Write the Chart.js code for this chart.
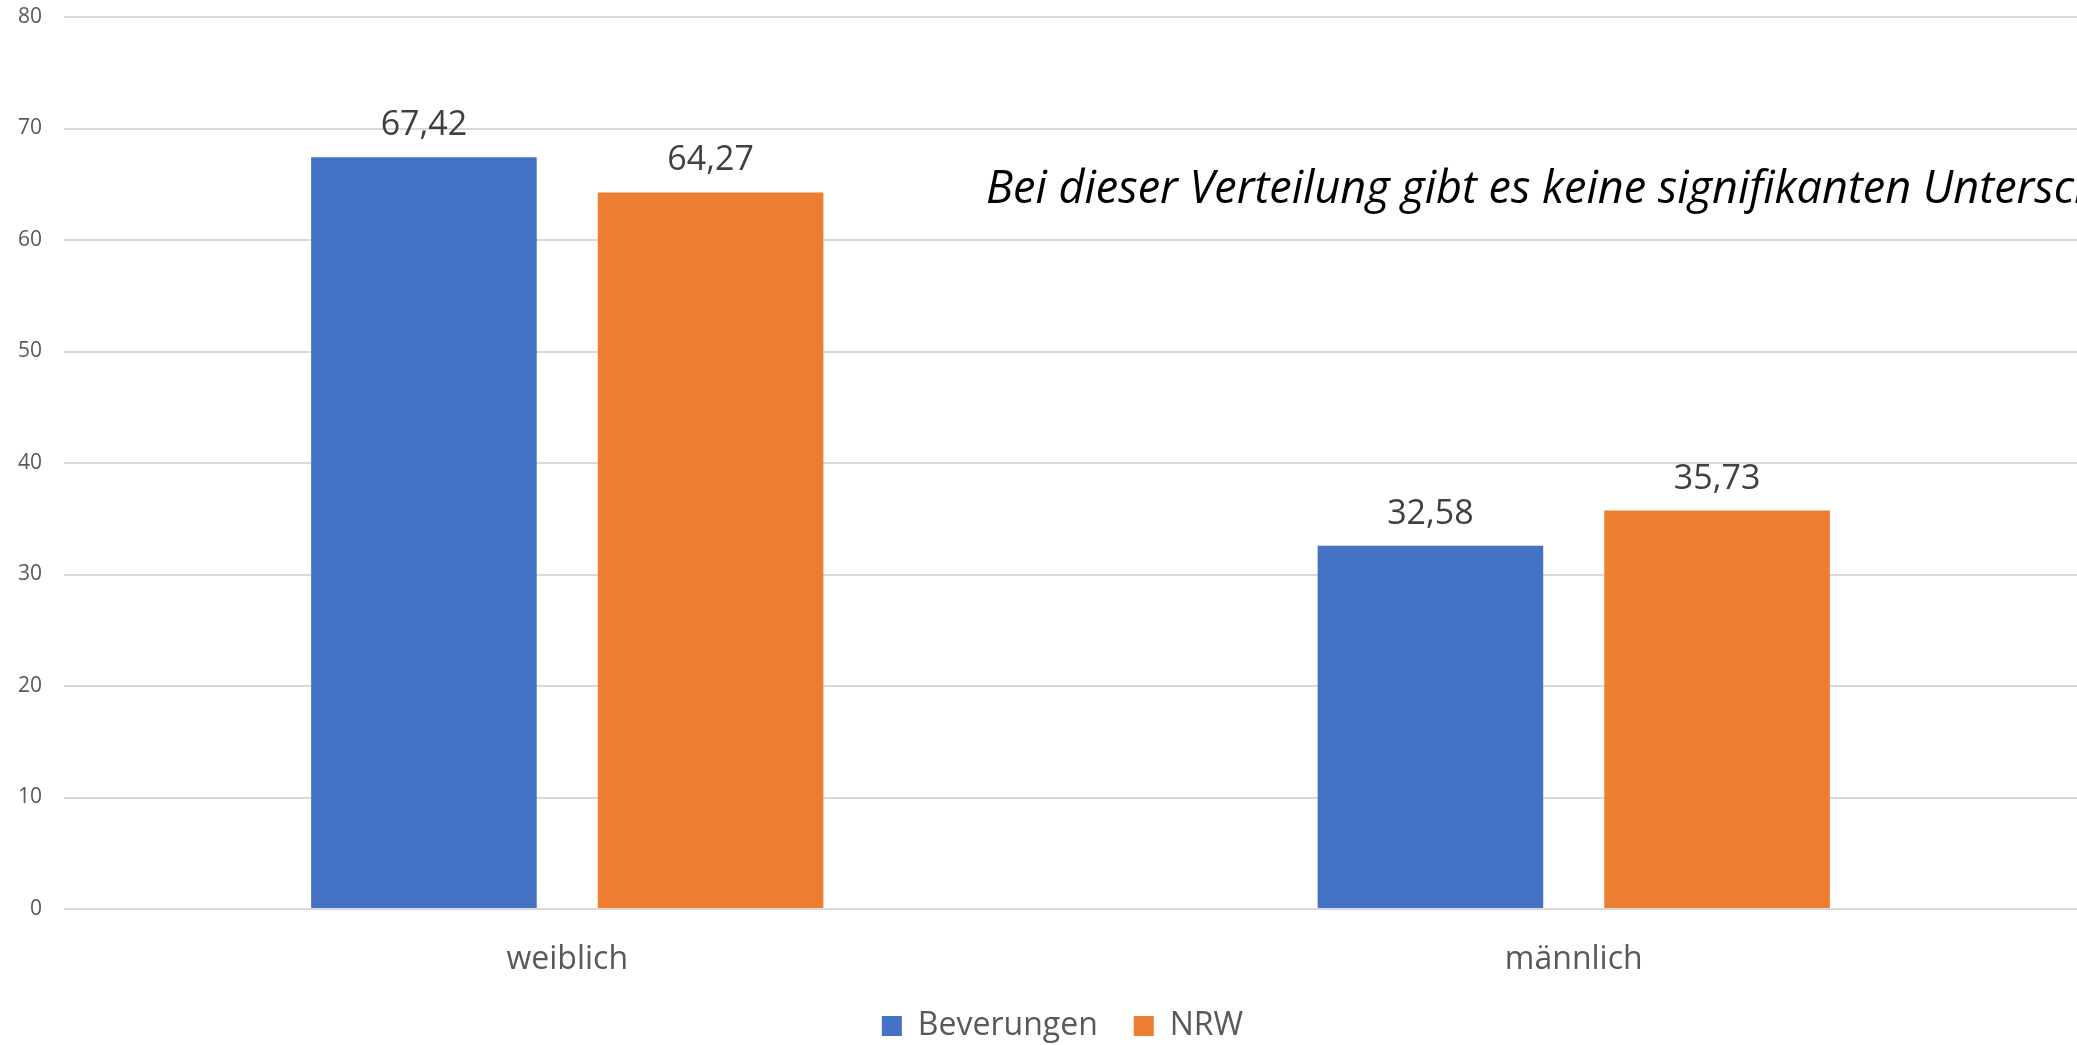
<!DOCTYPE html>
<html>
<head>
<meta charset="utf-8">
<script src="https://cdn.jsdelivr.net/npm/chart.js@4/dist/chart.umd.min.js"></script>
<style>
  html, body { margin: 0; padding: 0; background: #ffffff; }
  #wrap { width: 2077px; height: 1045px; position: relative; }
</style>
</head>
<body>
<div id="wrap"><canvas id="c"></canvas></div>
<script>
const categories = ["weiblich", "männlich"];
const seriesNames = ["Beverungen", "NRW"];
const beverungenValues = [67.42, 32.58];
const nrwValues = [64.27, 35.73];
const yTickValues = [0, 10, 20, 30, 40, 50, 60, 70, 80];
const noteText = "Bei dieser Verteilung gibt es keine signifikanten Unterschiede.";

const FONT = "'Open Sans', 'Noto Sans', sans-serif";

const valueLabels = {
  id: 'valueLabels',
  afterDatasetsDraw(chart) {
    const ctx = chart.ctx;
    ctx.save();
    ctx.font = "34px " + FONT;
    ctx.fillStyle = '#404040';
    ctx.textAlign = 'center';
    ctx.textBaseline = 'alphabetic';
    chart.data.datasets.forEach((ds, di) => {
      const meta = chart.getDatasetMeta(di);
      meta.data.forEach((bar, i) => {
        const txt = ds.data[i].toFixed(2).replace('.', ',');
        ctx.fillText(txt, bar.x, bar.y - 22);
      });
    });
    ctx.restore();
  }
};

const note = {
  id: 'note',
  afterDraw(chart) {
    const ctx = chart.ctx;
    ctx.save();
    ctx.font = "italic 45px " + FONT;
    ctx.fillStyle = '#000000';
    ctx.textAlign = 'left';
    ctx.textBaseline = 'alphabetic';
    ctx.fillText(noteText, 986, 203);
    ctx.restore();
  }
};

const legendShift = {
  id: 'legendShift',
  afterLayout(chart) {
    if (chart.legend) {
      chart.legend.left -= 8;
      chart.legend.right -= 8;
    }
  }
};

new Chart(document.getElementById('c'), {
  type: 'bar',
  data: {
    labels: categories,
    datasets: [
      { label: seriesNames[0], data: beverungenValues, backgroundColor: '#4472C4', borderWidth: 0 },
      { label: seriesNames[1], data: nrwValues, backgroundColor: '#ED7D31', borderWidth: 0 }
    ]
  },
  options: {
    responsive: true,
    maintainAspectRatio: false,
    animation: false,
    layout: { padding: { top: 17, left: 0, right: 0, bottom: -7 } },
    datasets: { bar: { categoryPercentage: 0.5696, barPercentage: 0.787 } },
    plugins: {
      tooltip: { enabled: false },
      legend: {
        position: 'bottom',
        fullSize: false,
        labels: {
          boxWidth: 20,
          boxHeight: 20,
          padding: 36,
          color: '#595959',
          font: { family: FONT, size: 32 }
        }
      }
    },
    scales: {
      x: {
        grid: { display: false, drawTicks: false },
        border: { display: false },
        ticks: {
          color: '#595959',
          font: { family: FONT, size: 32 },
          padding: 32
        },
        afterFit(scale) { scale.height = 65; }
      },
      y: {
        min: 0,
        max: 80,
        afterBuildTicks(scale) { scale.ticks = yTickValues.map(v => ({ value: v })); },
        grid: { color: '#d9d9d9', lineWidth: 2, drawTicks: false },
        border: { display: false },
        ticks: {
          color: '#595959',
          font: { family: FONT, size: 21 },
          padding: 22
        },
        afterFit(scale) {
          scale.width = 64;
          scale.paddingTop = 0;
          scale.paddingBottom = 0;
        }
      }
    }
  },
  plugins: [valueLabels, note, legendShift]
});
</script>
</body>
</html>
